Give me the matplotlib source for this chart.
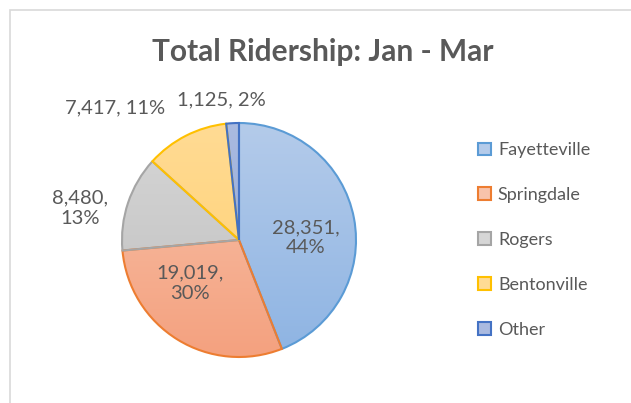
import matplotlib.pyplot as plt
import numpy as np
import matplotlib.colors as colors
from matplotlib.patches import Rectangle

plt.rcParams['font.family'] = ['Lato', 'DejaVu Sans']

# data
cities = ['Fayetteville', 'Springdale', 'Rogers', 'Bentonville', 'Other']
riders = [28351, 19019, 8480, 7417, 1125]
pct_labels = ['44%', '30%', '13%', '11%', '2%']

# excel style colours: outline, gradient top, gradient bottom
edge_cols = ['#5B9BD5', '#ED7D31', '#A5A5A5', '#FFC000', '#4472C4']
top_cols = ['#B4CBEA', '#F8C3AB', '#D6D6D6', '#FFDB94', '#AABAE0']
bot_cols = ['#8EB4E3', '#F4A17F', '#BFBFBF', '#FFCF6E', '#8DA5D8']

# label positions in pie units (radius = 1) and line breaks
label_pos = [(0.57, 0.02), (-0.42, -0.37), (-1.36, 0.27), (-1.06, 1.13), (-0.15, 1.20)]
label_sep = ['\n', '\n', '\n', ' ', ' ']

W, H = 631, 403
fig = plt.figure(figsize=(W / 100, H / 100), dpi=100)

# chart area border
fig.patches.append(Rectangle((10 / W, -0.1), 1.2, (H - 10) / H + 0.1, transform=fig.transFigure,
                             fill=False, edgecolor='#D9D9D9', linewidth=1.2))

cx, cy, r = 239, 240, 117
ax = fig.add_axes([(cx - r) / W, (H - cy - r) / H, 2 * r / W, 2 * r / H])

wedges, _ = ax.pie(riders, startangle=90, counterclock=False, radius=1,
                   colors=top_cols, wedgeprops=dict(linewidth=1.5))

for i, w in enumerate(wedges):
    cmap = colors.LinearSegmentedColormap.from_list('g', [bot_cols[i], top_cols[i]])
    grad = np.linspace(0, 1, 256).reshape(-1, 1)
    im = ax.imshow(grad, extent=[-1, 1, -1, 1], origin='lower', cmap=cmap, aspect='auto', zorder=1)
    im.set_clip_path(w)
    w.set_facecolor('none')
    w.set_edgecolor(edge_cols[i])
    w.set_zorder(2)
ax.set_xlim(-1, 1)
ax.set_ylim(-1, 1)
ax.axis('off')

for i in range(len(riders)):
    txt = f'{riders[i]:,},{label_sep[i]}{pct_labels[i]}'
    ax.text(label_pos[i][0], label_pos[i][1], txt, ha='center', va='center',
            fontsize=14.5, color='#595959', linespacing=1.25, zorder=5, clip_on=False)

fig.text(323 / W, 1 - 52 / H, 'Total Ridership: Jan - Mar', ha='center', va='center',
         fontsize=21.5, fontweight='bold', color='#595959')

handles = []
for i in range(len(riders)):
    handles.append(Rectangle((0, 0), 1, 1, facecolor=top_cols[i], edgecolor=edge_cols[i], linewidth=1.5))
leg = fig.legend(handles, cities, loc='center left', bbox_to_anchor=(469 / W, 1 - 240 / H),
                 frameon=False, fontsize=13, labelspacing=1.6, handlelength=0.7,
                 handleheight=0.7, handletextpad=0.4, borderpad=0)
for t in leg.get_texts():
    t.set_color('#595959')

fig.savefig('out.png', dpi=100)
